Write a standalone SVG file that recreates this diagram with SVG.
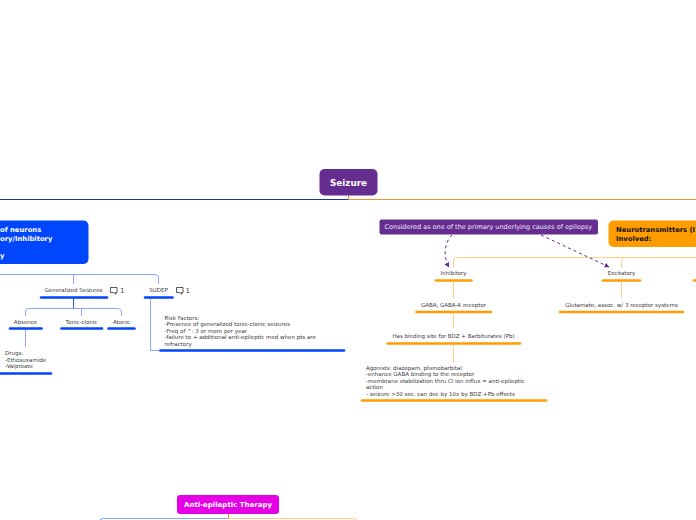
<svg xmlns="http://www.w3.org/2000/svg" width="696" height="520" viewBox="0 0 696 520">
<style>
text{font-family:"DejaVu Sans",Verdana,sans-serif}
.t{font-size:5.500px;fill:#3a3a3a}
.m{text-anchor:middle}
.w{font-weight:bold;fill:#fff}
.lb{fill:none;stroke:#8aa8ff;stroke-width:1}
.lo{fill:none;stroke:#ffcf8a;stroke-width:1}
.ub{stroke:#0046ff;stroke-width:2.6;stroke-linecap:round}
.uo{stroke:#ff9d00;stroke-width:2.6;stroke-linecap:round}
.d{fill:none;stroke:#662d91;stroke-width:1;stroke-dasharray:3 3;marker-end:url(#a)}
.c{fill:none;stroke:#444;stroke-width:.9}
.n{font-size:7px;fill:#444}
</style>
<defs><marker id="a" markerWidth="6" markerHeight="6" refX="4.500" refY="2.500" orient="auto" markerUnits="userSpaceOnUse"><path d="M0 0L5 2.500L0 5z" fill="#662d91"/></marker></defs>
<rect width="696" height="520" fill="#fff"/>
<g id="connectors">
<path d="M0 199.500H348.500" fill="none" stroke="#1c3a8c" stroke-width="1"/>
<path d="M348.500 199.500H696" fill="none" stroke="#e8962a" stroke-width="1"/>
<path d="M348.500 195V199.500" fill="none" stroke="#e8962a" stroke-width="1"/>
<path class="lb" d="M0 274.500H155Q158.500 274.500 158.500 278V284"/>
<path class="lb" d="M73.500 274.500V284"/>
<path d="M73.500 298V308" fill="none" stroke="#2a55c8" stroke-width="1"/>
<path class="lb" d="M25.500 316V311Q25.500 308.500 29 308.500H118Q121.500 308.500 121.500 312V316"/>
<path class="lb" d="M81.500 308.500V316"/>
<path class="lb" d="M25.500 329V347"/>
<path class="lb" d="M150.500 298V350.500H160"/>
<path class="lo" d="M453.500 268V261Q453.500 257.500 457 257.500H696"/>
<path class="lo" d="M621.500 268V261Q621.500 257.500 625 257.500"/>
<path class="lo" d="M453.500 282V298M453.500 313V328M453.500 345V362"/>
<path class="lo" d="M621.500 282V298"/>
<path class="d" d="M452 235C444 243 443 257 449 267"/>
<path class="d" d="M541 235L609 267"/>
<path d="M100 520V521Q100 518.500 104 518.500H228.500" fill="none" stroke="#8aa8ff" stroke-width="1.200"/>
<path d="M228.500 518.500H353Q357 518.500 357 522" fill="none" stroke="#ffcf8a" stroke-width="1.200"/>
<path d="M228.500 514V518.500" fill="none" stroke="#e8962a" stroke-width="1"/>
</g>
<g id="seizure"><rect x="319.500" y="169" width="58" height="26.500" rx="5" fill="#662d91"/><text class="w m" x="348.500" y="186" font-size="8.800">Seizure</text></g>
<g id="neurons"><rect x="-30" y="220.500" width="118.500" height="43.500" rx="5" fill="#0046ff"/>
<text class="w" font-size="6.800"><tspan x="0" y="231.500">of neurons</tspan><tspan x="0" y="240.500">ory/Inhibitory</tspan><tspan x="0" y="258">y</tspan></text></g>
<g id="generalized"><text class="t m" x="73.500" y="291.800">Generalized Seizures</text><line class="ub" x1="41" y1="297.500" x2="107" y2="297.500"/>
<path class="c" transform="translate(110,287)" d="M.5 .5H7V5.500H5.500L6 7.200L3.500 5.500H.5Z"/><text class="n" x="120" y="293.200">1</text></g>
<g id="sudep"><text class="t m" x="158.500" y="291.800">SUDEP</text><line class="ub" x1="145" y1="297.500" x2="172.500" y2="297.500"/>
<path class="c" transform="translate(176,287)" d="M.5 .5H7V5.500H5.500L6 7.200L3.500 5.500H.5Z"/><text class="n" x="185.500" y="293.200">1</text></g>
<g id="absence"><text class="t m" x="25.500" y="324">Absence</text><line class="ub" x1="10" y1="328.500" x2="41.500" y2="328.500"/></g>
<g id="tonic"><text class="t m" x="81.500" y="324">Tonic-clonic</text><line class="ub" x1="61.500" y1="328.500" x2="102" y2="328.500"/></g>
<g id="atonic"><text class="t m" x="121.500" y="324">Atonic</text><line class="ub" x1="108.500" y1="328.500" x2="134.500" y2="328.500"/></g>
<g id="drugs"><text class="t"><tspan x="5" y="354.800">Drugs:</tspan><tspan x="5" y="361.800">-Ethosuxamide</tspan><tspan x="5" y="368">-Valproate</tspan></text><line class="ub" x1="0" y1="373.500" x2="51" y2="373.500"/></g>
<g id="risk"><text class="t"><tspan x="164.500" y="319.800">Risk Factors:</tspan><tspan x="164.500" y="326">-Presence of generalized tonic-clonic seizures</tspan><tspan x="164.500" y="333">-Freq of ^: 3 or more per year</tspan><tspan x="164.500" y="339">-failure to + additional anti-epileptic med when pts are</tspan><tspan x="164.500" y="346">refractory</tspan></text><line class="ub" x1="160.500" y1="350.500" x2="344" y2="350.500"/></g>
<g id="considered"><rect x="379.500" y="219.500" width="218.500" height="15" rx="2" fill="#662d91"/><text x="384.500" y="228.800" font-size="6.500" fill="#f0e6f5">Considered as one of the primary underlying causes of epilepsy</text></g>
<g id="neurotransmitters"><rect x="608.500" y="220.500" width="120" height="26.500" rx="5" fill="#ff9d00"/><text font-size="6.800" font-weight="bold" fill="#111"><tspan x="616" y="231.800">Neurotransmitters (I</tspan><tspan x="616" y="240.800">Involved:</tspan></text></g>
<g id="inhibitory"><text class="t m" x="453.500" y="274.800">Inhibitory</text><line class="uo" x1="436" y1="280.500" x2="471.500" y2="280.500"/></g>
<g id="excitatory"><text class="t m" x="621.500" y="274.800">Excitatory</text><line class="uo" x1="603" y1="280.500" x2="640" y2="280.500"/></g>
<line class="uo" x1="694" y1="280.500" x2="696" y2="280.500"/>
<g id="gaba"><text class="t m" x="453.500" y="306.800">GABA; GABA-A receptor</text><line class="uo" x1="416.500" y1="312" x2="491" y2="312"/></g>
<g id="glutamate"><text class="t m" x="621.500" y="306.800">Glutamate; assoc. w/ 3 receptor systems</text><line class="uo" x1="560" y1="312" x2="683" y2="312"/></g>
<g id="binding"><text class="t m" x="453.500" y="337.800">Has binding site for BDZ + Barbiturates (Pb)</text><line class="uo" x1="387.500" y1="343.500" x2="520" y2="343.500"/></g>
<g id="agonists"><text class="t"><tspan x="366" y="369.800">Agonists: diazepam, phenobarbital</tspan><tspan x="366" y="376">-enhance GABA binding to the receptor</tspan><tspan x="366" y="383">-membrane stabilization thru Cl ion influx = anti-epileptic</tspan><tspan x="366" y="389">action</tspan><tspan x="366" y="395.800">- seizure &gt;30 sec. can dec by 10x by BDZ +Pb effects</tspan></text><line class="uo" x1="362" y1="400.500" x2="546" y2="400.500"/></g>
<g id="therapy"><rect x="177" y="495" width="102" height="19" rx="3" fill="#e600e6"/><text class="w m" x="228" y="507" font-size="7px">Anti-epileptic Therapy</text></g>
</svg>
